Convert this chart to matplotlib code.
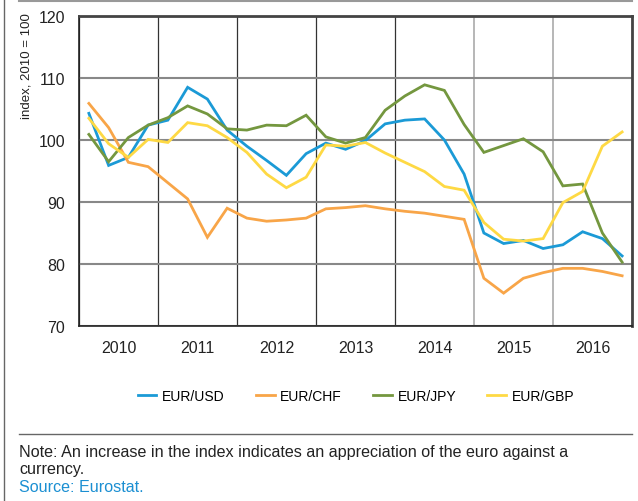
import matplotlib
matplotlib.use("Agg")
from matplotlib import pyplot as plt
from matplotlib.lines import Line2D
import numpy as np

# quarterly index values, 2010 Q1 .. 2016 Q4
years = ["2010", "2011", "2012", "2013", "2014", "2015", "2016"]
eur_usd = [104.3, 95.9, 97.2, 102.4, 103.2, 108.5, 106.6, 101.6,
           99.0, 96.7, 94.3, 97.8, 99.5, 98.5, 99.9, 102.6,
           103.2, 103.4, 100.0, 94.5, 85.0, 83.3, 83.8, 82.5,
           83.1, 85.2, 84.1, 81.3]
eur_chf = [105.9, 102.0, 96.4, 95.7, 93.1, 90.5, 84.3, 89.0,
           87.4, 86.9, 87.1, 87.4, 88.9, 89.1, 89.4, 88.9,
           88.5, 88.2, 87.7, 87.2, 77.7, 75.3, 77.7, 78.6,
           79.3, 79.3, 78.8, 78.1]
eur_jpy = [100.9, 96.5, 100.4, 102.4, 103.6, 105.5, 104.2, 101.8,
           101.6, 102.4, 102.3, 104.0, 100.5, 99.5, 100.4, 104.8,
           107.1, 108.9, 108.0, 102.5, 98.0, 99.1, 100.2, 98.1,
           92.6, 92.9, 85.0, 80.3]
eur_gbp = [103.5, 99.4, 97.2, 100.1, 99.6, 102.8, 102.3, 100.4,
           98.0, 94.5, 92.3, 94.0, 99.2, 99.0, 99.6, 97.9,
           96.4, 94.9, 92.5, 91.9, 86.7, 84.0, 83.7, 84.1,
           89.9, 91.7, 99.0, 101.3]

series = [("EUR/USD", eur_usd, "#1b9ad6"),
          ("EUR/CHF", eur_chf, "#f8a548"),
          ("EUR/JPY", eur_jpy, "#74973f"),
          ("EUR/GBP", eur_gbp, "#fed944")]

fam = ["Liberation Sans", "DejaVu Sans"]
plt.rcParams["font.family"] = fam

fig = plt.figure(figsize=(6.38, 5.02), dpi=100)
ax = fig.add_axes([79 / 638, 1 - 327 / 502, 553 / 638, 310 / 502])

x = np.arange(len(eur_usd)) + 0.5
for name, vals, col in series:
    ax.plot(x, vals, color=col, lw=2.0, label=name, solid_joinstyle="miter")

ax.set_xlim(0, len(eur_usd))
ax.set_ylim(70, 120)
ax.set_yticks([70, 80, 90, 100, 110, 120])
ax.set_xticks(np.arange(0, 29, 4))
ax.set_xticklabels([])
ax.set_xticks(np.arange(2, 28, 4), minor=True)
ax.set_xticklabels(years, minor=True, fontsize=11.5, color="#222222")
ax.tick_params(axis="x", which="both", length=0, pad=10)
ax.tick_params(axis="y", length=0, pad=10, labelsize=11.5, labelcolor="#222222")

ax.set_axisbelow(True)
ax.yaxis.grid(True, color="#888888", lw=1.5)
ax.xaxis.grid(True, which="major", color="#333333", lw=0.9)
for gl, pos in zip(ax.get_xgridlines(), np.arange(0, 29, 4)):
    if pos in (20, 24):
        gl.set_color("#aaaaaa")
        gl.set_linewidth(1.2)

for s in ("left", "bottom"):
    ax.spines[s].set_color("#222222")
    ax.spines[s].set_linewidth(1.2)
for s in ("top", "right"):
    ax.spines[s].set_color("#444444")
    ax.spines[s].set_linewidth(2.0)

fig.text(27 / 638, 1 - 66 / 502, "index, 2010 = 100", rotation=90, ha="center",
         va="center", fontsize=9.5, color="#222222")

fig.legend(loc="center", bbox_to_anchor=(356 / 638, 1 - 397 / 502), ncol=4,
           frameon=False, prop={"size": 10},
           handlelength=1.35, handletextpad=0.4, columnspacing=2.25)

# frame lines of the box
fig.add_artist(Line2D([19 / 638, 632 / 638], [1 - 2 / 502] * 2, color="#999999", lw=1.5))
fig.add_artist(Line2D([4 / 638] * 2, [0, 1], color="#666666", lw=1))
fig.add_artist(Line2D([19 / 638, 632 / 638], [1 - 435 / 502] * 2, color="#666666", lw=1))

fig.text(19 / 638, 1 - 453 / 502,
         "Note: An increase in the index indicates an appreciation of the euro against a",
         va="center", fontsize=11.6, color="#222222")
fig.text(19 / 638, 1 - 470 / 502, "currency.", va="center", fontsize=11.6, color="#222222")
fig.text(19 / 638, 1 - 488 / 502, "Source: Eurostat.", va="center", fontsize=11.6, color="#1b8fd2")

fig.savefig("out.png", dpi=100)
